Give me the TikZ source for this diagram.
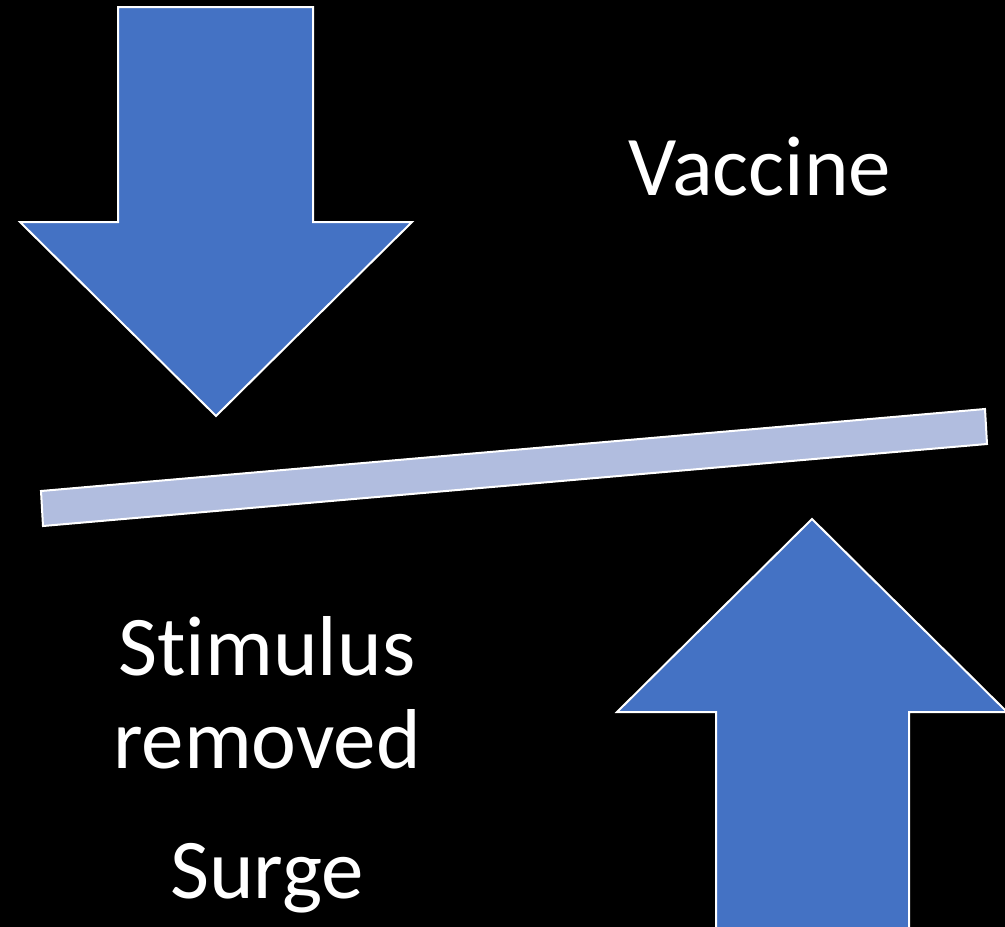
\documentclass[tikz,border=0pt]{standalone}
\usepackage{fontspec}
\setmainfont{Carlito}[Ligatures=NoCommon]
\definecolor{arrowblue}{HTML}{4472C4}
\definecolor{barblue}{HTML}{B1BDDF}
\begin{document}
\begin{tikzpicture}[x=1pt,y=-1pt,
  blockarrow/.style={fill=arrowblue,draw=white,line width=2pt,line join=miter},
  barstyle/.style={fill=barblue,draw=white,line width=2pt},
  label/.style={text=white,font=\fontsize{85}{100}\selectfont,anchor=base,inner sep=0pt}]
\fill[black] (0,0) rectangle (1005,927);
\useasboundingbox (0,0) rectangle (1005,927);
% down arrow
\draw[blockarrow] (118,7) -- (313,7) -- (313,222) -- (412,222) -- (216,416) -- (20,222) -- (118,222) -- cycle;
% bar
\draw[barstyle] (41,491) -- (985,409) -- (987,444) -- (43,526) -- cycle;
% up arrow
\draw[blockarrow] (812,519) -- (1007,712) -- (909,712) -- (909,940) -- (716,940) -- (716,712) -- (617,712) -- cycle;
% labels
\node[label] (vaccine) at (760,195) {Vaccine};
\node[label] (stimulus) at (267,675) {St\kern0pt imulus};
\node[label] (removed) at (267,768) {removed};
\node[label] (surge) at (267,898) {Surge};
\end{tikzpicture}
\end{document}
